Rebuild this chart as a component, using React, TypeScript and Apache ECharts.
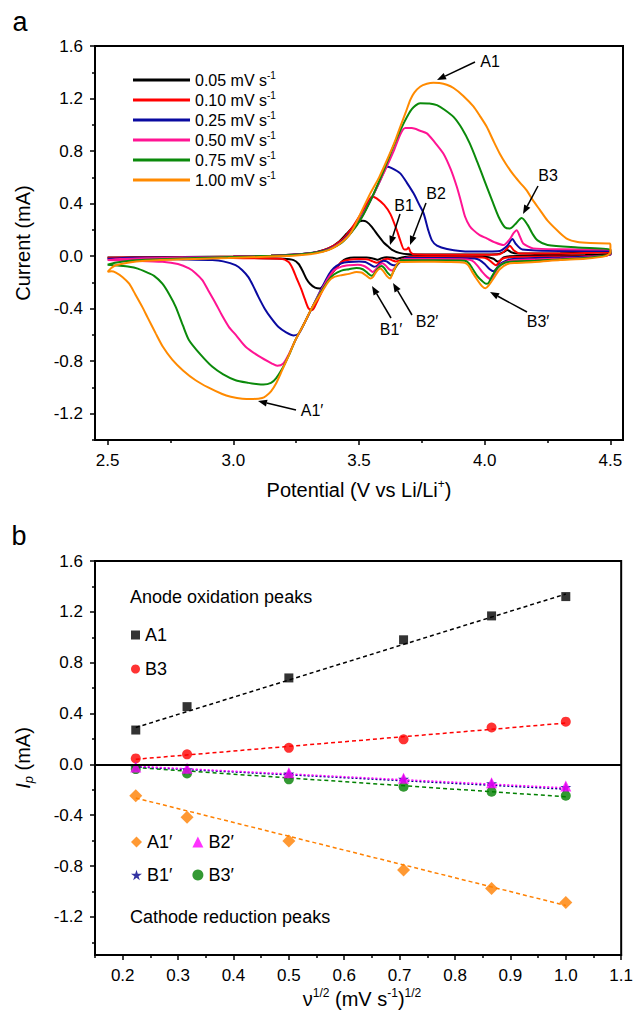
import React, { useEffect, useRef } from 'react';
import * as echarts from 'echarts';

const FONT = '"Liberation Sans", Arial, Helvetica, sans-serif';

// ---------- Panel a: cyclic voltammograms (V, mA) ----------
const rateNames = ['0.05', '0.10', '0.25', '0.50', '0.75', '1.00'];
const rateColors = ['#000000', '#ff0000', '#0a0aa0', '#ff1493', '#0b8a0b', '#ff8a00'];

const fwd005 = [[2.5,-0.01],[2.6,-0.009],[2.8,-0.007],[3.0,-0.003],[3.15,0.003],[3.25,0.012],[3.33,0.03],[3.38,0.06],[3.42,0.11],[3.45,0.17],[3.48,0.23],[3.5,0.262],[3.515,0.27],[3.53,0.262],[3.55,0.225],[3.575,0.16],[3.6,0.1],[3.615,0.075],[3.63,0.05],[3.66,0.025],[3.7,0.015],[3.9,0.012],[4.05,0.015],[4.075,0.03],[4.09,0.047],[4.105,0.03],[4.13,0.02],[4.3,0.022],[4.5,0.03]];
const rev005 = [[4.5,0.015],[4.4,0.008],[4.2,0.004],[4.1,0.0],[4.075,-0.01],[4.06,-0.035],[4.05,-0.04],[4.035,-0.02],[4.0,-0.005],[3.8,-0.003],[3.7,-0.003],[3.67,-0.01],[3.652,-0.02],[3.635,-0.012],[3.61,-0.008],[3.59,-0.015],[3.575,-0.028],[3.56,-0.02],[3.53,-0.01],[3.48,-0.01],[3.45,-0.02],[3.43,-0.045],[3.41,-0.09],[3.38,-0.16],[3.36,-0.22],[3.345,-0.247],[3.325,-0.24],[3.305,-0.21],[3.29,-0.17],[3.275,-0.11],[3.26,-0.06],[3.24,-0.03],[3.2,-0.02],[3.0,-0.012],[2.7,-0.01],[2.5,-0.01]];

const fwd010 = [[2.5,-0.012],[2.6,-0.01],[2.8,-0.008],[3.0,-0.003],[3.15,0.003],[3.25,0.012],[3.33,0.03],[3.38,0.06],[3.43,0.12],[3.47,0.21],[3.51,0.33],[3.535,0.41],[3.552,0.455],[3.57,0.44],[3.6,0.39],[3.625,0.32],[3.65,0.2],[3.664,0.12],[3.68,0.05],[3.69,0.052],[3.697,0.065],[3.705,0.03],[3.72,0.012],[3.9,0.01],[4.06,0.015],[4.085,0.05],[4.1,0.08],[4.115,0.045],[4.14,0.02],[4.3,0.02],[4.5,0.03]];
const rev010 = [[4.5,0.01],[4.4,0.0],[4.2,-0.005],[4.1,-0.008],[4.07,-0.02],[4.055,-0.05],[4.045,-0.07],[4.03,-0.05],[4.01,-0.02],[3.99,-0.01],[3.8,-0.007],[3.7,-0.007],[3.68,-0.02],[3.66,-0.035],[3.645,-0.04],[3.63,-0.03],[3.615,-0.02],[3.6,-0.025],[3.585,-0.04],[3.57,-0.05],[3.555,-0.04],[3.535,-0.025],[3.5,-0.022],[3.46,-0.028],[3.43,-0.045],[3.41,-0.09],[3.38,-0.16],[3.35,-0.28],[3.33,-0.36],[3.315,-0.41],[3.3,-0.4],[3.285,-0.33],[3.27,-0.25],[3.25,-0.16],[3.235,-0.09],[3.22,-0.045],[3.19,-0.02],[3.0,-0.015],[2.7,-0.012],[2.5,-0.012]];

const fwd025 = [[2.5,-0.02],[2.6,-0.012],[2.8,-0.009],[3.0,-0.004],[3.15,0.003],[3.25,0.012],[3.33,0.03],[3.38,0.055],[3.43,0.11],[3.47,0.19],[3.51,0.3],[3.55,0.44],[3.58,0.56],[3.6,0.645],[3.611,0.68],[3.63,0.67],[3.664,0.63],[3.69,0.56],[3.717,0.478],[3.74,0.39],[3.757,0.325],[3.775,0.2],[3.79,0.12],[3.81,0.08],[3.85,0.055],[3.94,0.035],[4.06,0.04],[4.09,0.08],[4.11,0.13],[4.125,0.09],[4.15,0.05],[4.3,0.04],[4.5,0.04]];
const rev025 = [[4.5,0.01],[4.4,-0.005],[4.3,-0.01],[4.2,-0.015],[4.12,-0.02],[4.09,-0.03],[4.06,-0.06],[4.045,-0.1],[4.035,-0.115],[4.02,-0.1],[4.0,-0.06],[3.98,-0.03],[3.96,-0.018],[3.8,-0.014],[3.69,-0.013],[3.67,-0.035],[3.652,-0.06],[3.637,-0.07],[3.625,-0.06],[3.61,-0.04],[3.598,-0.035],[3.585,-0.05],[3.57,-0.075],[3.56,-0.08],[3.545,-0.065],[3.525,-0.045],[3.5,-0.04],[3.46,-0.045],[3.43,-0.055],[3.4,-0.09],[3.38,-0.14],[3.35,-0.25],[3.314,-0.39],[3.28,-0.52],[3.26,-0.59],[3.24,-0.604],[3.21,-0.58],[3.18,-0.54],[3.15,-0.47],[3.125,-0.4],[3.1,-0.31],[3.08,-0.23],[3.06,-0.16],[3.035,-0.105],[3.009,-0.069],[2.96,-0.04],[2.917,-0.03],[2.8,-0.025],[2.6,-0.02],[2.5,-0.02]];

const fwd050 = [[2.5,-0.03],[2.55,-0.022],[2.65,-0.016],[2.8,-0.011],[3.0,-0.005],[3.15,0.002],[3.25,0.01],[3.33,0.028],[3.38,0.052],[3.43,0.105],[3.47,0.185],[3.51,0.295],[3.55,0.44],[3.6,0.64],[3.64,0.81],[3.665,0.93],[3.684,0.975],[3.71,0.975],[3.743,0.955],[3.77,0.935],[3.8,0.87],[3.836,0.78],[3.865,0.66],[3.889,0.528],[3.905,0.42],[3.922,0.3],[3.94,0.23],[3.955,0.198],[3.98,0.16],[4.008,0.135],[4.04,0.105],[4.074,0.084],[4.1,0.13],[4.114,0.173],[4.127,0.198],[4.14,0.15],[4.153,0.097],[4.193,0.059],[4.3,0.052],[4.5,0.05]];
const rev050 = [[4.5,0.015],[4.4,-0.01],[4.3,-0.018],[4.2,-0.025],[4.12,-0.03],[4.09,-0.04],[4.06,-0.07],[4.04,-0.13],[4.025,-0.175],[4.01,-0.16],[3.99,-0.12],[3.97,-0.07],[3.95,-0.035],[3.93,-0.025],[3.8,-0.022],[3.68,-0.022],[3.66,-0.05],[3.642,-0.09],[3.632,-0.11],[3.62,-0.1],[3.605,-0.07],[3.593,-0.055],[3.58,-0.07],[3.565,-0.105],[3.555,-0.12],[3.54,-0.1],[3.52,-0.075],[3.495,-0.065],[3.46,-0.07],[3.43,-0.08],[3.4,-0.11],[3.38,-0.16],[3.35,-0.26],[3.314,-0.39],[3.28,-0.52],[3.247,-0.64],[3.22,-0.75],[3.198,-0.82],[3.175,-0.835],[3.154,-0.818],[3.1,-0.76],[3.049,-0.69],[3.01,-0.6],[2.983,-0.54],[2.955,-0.45],[2.93,-0.36],[2.9,-0.26],[2.877,-0.183],[2.85,-0.13],[2.824,-0.094],[2.78,-0.06],[2.718,-0.043],[2.6,-0.035],[2.5,-0.03]];

const fwd075 = [[2.5,-0.065],[2.53,-0.05],[2.58,-0.037],[2.68,-0.026],[2.85,-0.014],[3.0,-0.006],[3.15,0.002],[3.25,0.01],[3.33,0.027],[3.38,0.05],[3.43,0.1],[3.47,0.18],[3.51,0.29],[3.55,0.44],[3.6,0.66],[3.64,0.85],[3.68,1.02],[3.71,1.12],[3.743,1.165],[3.78,1.163],[3.81,1.15],[3.84,1.115],[3.876,1.06],[3.91,0.97],[3.94,0.86],[3.97,0.72],[4.0,0.57],[4.03,0.42],[4.055,0.3],[4.08,0.22],[4.1,0.21],[4.12,0.24],[4.147,0.29],[4.17,0.24],[4.19,0.17],[4.21,0.12],[4.25,0.085],[4.37,0.066],[4.5,0.05]];
const rev075 = [[4.5,0.02],[4.4,-0.015],[4.3,-0.025],[4.2,-0.035],[4.12,-0.04],[4.08,-0.05],[4.05,-0.09],[4.03,-0.15],[4.015,-0.205],[4.005,-0.21],[3.99,-0.19],[3.97,-0.15],[3.95,-0.09],[3.935,-0.05],[3.92,-0.035],[3.8,-0.032],[3.67,-0.032],[3.65,-0.07],[3.636,-0.12],[3.628,-0.15],[3.615,-0.13],[3.6,-0.09],[3.59,-0.075],[3.575,-0.095],[3.56,-0.135],[3.55,-0.15],[3.535,-0.13],[3.515,-0.1],[3.49,-0.09],[3.46,-0.1],[3.43,-0.11],[3.4,-0.14],[3.38,-0.18],[3.35,-0.27],[3.314,-0.39],[3.28,-0.52],[3.247,-0.64],[3.22,-0.76],[3.194,-0.86],[3.17,-0.93],[3.15,-0.965],[3.12,-0.978],[3.1,-0.976],[3.06,-0.965],[3.009,-0.945],[2.96,-0.9],[2.917,-0.843],[2.87,-0.75],[2.824,-0.64],[2.8,-0.53],[2.771,-0.386],[2.745,-0.29],[2.718,-0.21],[2.685,-0.15],[2.652,-0.12],[2.62,-0.095],[2.586,-0.081],[2.54,-0.072],[2.5,-0.065]];

const fwd100 = [[2.5,-0.12],[2.515,-0.09],[2.533,-0.07],[2.58,-0.05],[2.65,-0.036],[2.8,-0.024],[2.98,-0.015],[3.15,-0.003],[3.25,0.005],[3.33,0.022],[3.378,0.046],[3.42,0.09],[3.457,0.15],[3.48,0.22],[3.51,0.34],[3.545,0.478],[3.58,0.6],[3.611,0.73],[3.64,0.86],[3.664,0.985],[3.685,1.09],[3.704,1.19],[3.72,1.245],[3.743,1.29],[3.77,1.312],[3.796,1.32],[3.82,1.318],[3.849,1.305],[3.876,1.28],[3.915,1.22],[3.955,1.14],[3.98,1.07],[4.008,0.985],[4.034,0.88],[4.06,0.78],[4.085,0.7],[4.114,0.62],[4.14,0.56],[4.167,0.5],[4.19,0.43],[4.22,0.35],[4.25,0.27],[4.3,0.175],[4.33,0.13],[4.365,0.11],[4.42,0.1],[4.497,0.097],[4.5,0.08]];
const rev100 = [[4.5,0.03],[4.48,0.0],[4.4,-0.02],[4.3,-0.03],[4.2,-0.045],[4.12,-0.052],[4.09,-0.06],[4.06,-0.1],[4.035,-0.17],[4.015,-0.225],[4.003,-0.245],[3.99,-0.23],[3.97,-0.18],[3.95,-0.12],[3.935,-0.07],[3.92,-0.05],[3.85,-0.045],[3.75,-0.043],[3.66,-0.045],[3.645,-0.08],[3.632,-0.14],[3.624,-0.17],[3.61,-0.15],[3.595,-0.11],[3.585,-0.095],[3.57,-0.115],[3.555,-0.16],[3.545,-0.17],[3.53,-0.15],[3.51,-0.125],[3.49,-0.12],[3.46,-0.135],[3.43,-0.145],[3.4,-0.16],[3.38,-0.19],[3.35,-0.28],[3.314,-0.39],[3.28,-0.52],[3.247,-0.64],[3.22,-0.76],[3.194,-0.87],[3.17,-0.97],[3.15,-1.03],[3.13,-1.065],[3.115,-1.08],[3.08,-1.087],[3.036,-1.085],[2.99,-1.07],[2.956,-1.05],[2.9,-1.0],[2.85,-0.945],[2.8,-0.87],[2.758,-0.79],[2.72,-0.69],[2.692,-0.59],[2.66,-0.47],[2.639,-0.39],[2.61,-0.29],[2.586,-0.21],[2.56,-0.16],[2.533,-0.125],[2.515,-0.115],[2.5,-0.12]];

const cvCurves = [
  [...fwd005, ...rev005],
  [...fwd010, ...rev010],
  [...fwd025, ...rev025],
  [...fwd050, ...rev050],
  [...fwd075, ...rev075],
  [...fwd100, ...rev100],
];

// ---------- Panel b: peak currents vs sqrt(scan rate) ----------
const sqrtRate = [0.2236, 0.3162, 0.5, 0.7071, 0.866, 1.0];
const peakA1 = [0.27, 0.454, 0.68, 0.98, 1.168, 1.32];
const peakB3 = [0.047, 0.079, 0.13, 0.197, 0.29, 0.336];
const peakA1p = [-0.247, -0.417, -0.604, -0.832, -0.976, -1.087];
const peakB1p = [-0.025, -0.04, -0.075, -0.115, -0.15, -0.18];
const peakB2p = [-0.02, -0.03, -0.066, -0.11, -0.145, -0.171];
const peakB3p = [-0.037, -0.071, -0.118, -0.176, -0.215, -0.247];

const fitA1 = [[0.2236, 0.29], [1.0, 1.34]];
const fitB3 = [[0.2236, 0.04], [1.0, 0.325]];
const fitA1p = [[0.2236, -0.265], [1.0, -1.11]];
const fitB1p = [[0.2236, -0.02], [1.0, -0.195]];
const fitB2p = [[0.2236, -0.015], [1.0, -0.185]];
const fitB3p = [[0.2236, -0.025], [1.0, -0.255]];

// ---------- Tick values ----------
const cvXMajor = [2.5, 3.0, 3.5, 4.0, 4.5];
const cvXMinor = [2.75, 3.25, 3.75, 4.25];
const yMajor = [-1.2, -0.8, -0.4, 0, 0.4, 0.8, 1.2, 1.6];
const yMinor = [-1.4, -1.0, -0.6, -0.2, 0.2, 0.6, 1.0, 1.4];
const ipXMajor = [0.2, 0.3, 0.4, 0.5, 0.6, 0.7, 0.8, 0.9, 1.0, 1.1];
const ipXMinor = [0.15, 0.25, 0.35, 0.45, 0.55, 0.65, 0.75, 0.85, 0.95, 1.05];

const STAR = 'path://M50,0 L61,35 L98,35 L68,57 L79,91 L50,70 L21,91 L32,57 L2,35 L39,35 Z';

function axisPair(kind: 'x' | 'y', gridIndex: number, min: number, max: number, major: number[], minor: number[], margin: number) {
  const position = kind === 'x' ? 'bottom' : 'left';
  const main = {
    type: 'value', gridIndex, min, max, position,
    axisLine: { show: true, onZero: false, lineStyle: { color: '#000', width: 2 } },
    axisTick: { show: true, customValues: major, length: 5, inside: false, lineStyle: { color: '#000', width: 1.5 } },
    axisLabel: {
      show: true, customValues: major, margin, color: '#000', fontSize: 17, fontFamily: FONT,
      formatter: (v: number) => Number(v).toFixed(1),
    },
    splitLine: { show: false },
  };
  const sub = {
    type: 'value', gridIndex, min, max, position,
    axisLine: { show: false, onZero: false },
    axisTick: { show: true, customValues: minor, length: 3, inside: false, lineStyle: { color: '#000', width: 1.5 } },
    axisLabel: { show: false },
    splitLine: { show: false },
  };
  return [main, sub];
}

function arrow(x1: number, y1: number, x2: number, y2: number) {
  const a = Math.atan2(y2 - y1, x2 - x1);
  const c = Math.cos(a), s = Math.sin(a);
  const L = 9, W = 3.5;
  const bx = x2 - L * c, by = y2 - L * s;
  return [
    { type: 'line', z: 100, shape: { x1, y1, x2: bx, y2: by }, style: { stroke: '#000', lineWidth: 1.5 } },
    { type: 'polygon', z: 100, shape: { points: [[x2, y2], [bx - s * W, by + c * W], [bx + s * W, by - c * W]] }, style: { fill: '#000' } },
  ];
}

function label(text: string, x: number, y: number, size = 16, align = 'center') {
  return { type: 'text', z: 100, x, y, style: { text, fill: '#000', fontSize: size, fontFamily: FONT, align, verticalAlign: 'middle' } };
}

const supRich = {
  n: { fontSize: 20, fontFamily: FONT, color: '#000', fill: '#000', lineHeight: 24 },
  s: { fontSize: 12, fontFamily: FONT, color: '#000', fill: '#000', lineHeight: 13, verticalAlign: 'top' },
  i: { fontSize: 20, fontFamily: FONT, fontStyle: 'italic', fill: '#000', lineHeight: 24 },
  p: { fontSize: 13, fontFamily: FONT, fontStyle: 'italic', fill: '#000', lineHeight: 14, verticalAlign: 'bottom' },
};

function buildOption() {
  const [ax0, ax1] = axisPair('x', 0, 2.45, 4.55, cvXMajor, cvXMinor, 12);
  const [ay0, ay1] = axisPair('y', 0, -1.4, 1.6, yMajor, yMinor, 12);
  const [bx0, bx1] = axisPair('x', 1, 0.15, 1.1, ipXMajor, ipXMinor, 12);
  const [by0, by1] = axisPair('y', 1, -1.5, 1.6, yMajor, yMinor, 12);

  const cvSeries = cvCurves.map((d, i) => ({
    type: 'line', name: rateNames[i], xAxisIndex: 0, yAxisIndex: 0,
    data: d, showSymbol: false, symbol: 'none', smooth: 0.25,
    color: rateColors[i],
    lineStyle: { color: rateColors[i], width: 2 },
    itemStyle: { color: rateColors[i] },
  }));

  const fit = (name: string, d: number[][], color: string, dash: number[], extra: any = {}) => ({
    type: 'line', name, xAxisIndex: 2, yAxisIndex: 2, data: d, showSymbol: false, symbol: 'none',
    lineStyle: { color, width: 1.5, type: dash }, z: 2, ...extra,
  });
  const pts = (name: string, vals: number[], symbol: string, size: number, color: string) => ({
    type: 'scatter', name, xAxisIndex: 2, yAxisIndex: 2, symbol, symbolSize: size,
    data: sqrtRate.map((x, i) => [x, vals[i]]), itemStyle: { color }, z: 3,
  });

  const bSeries = [
    fit('fitA1', fitA1, '#000', [4, 3], {
      markLine: {
        silent: true, symbol: ['none', 'none'], label: { show: false },
        lineStyle: { color: '#000', width: 2, type: 'solid' }, data: [{ yAxis: 0 }],
      },
    }),
    fit('fitB3', fitB3, '#ff0000', [4, 3]),
    fit('fitA1p', fitA1p, '#ff8000', [4, 3]),
    fit('fitB3p', fitB3p, '#008000', [4, 3]),
    fit('fitB1p', fitB1p, '#00008b', [2, 2]),
    fit('fitB2p', fitB2p, '#ff00ff', [2, 2]),
    pts('A1', peakA1, 'rect', 9, '#000'),
    pts('B3', peakB3, 'circle', 10, '#ff0000'),
    pts('A1′', peakA1p, 'diamond', 13, '#ff8000'),
    pts('B1′', peakB1p, STAR, 11, '#00008b'),
    pts('B3′', peakB3p, 'circle', 10, '#008000'),
    pts('B2′', peakB2p, 'triangle', 11, '#ff00ff'),
  ];

  const legTxt = { fontSize: 18, fontFamily: FONT, color: '#000', lineHeight: 20 };

  return {
    animation: false,
    backgroundColor: '#fff',
    textStyle: { fontFamily: FONT },
    grid: [
      { left: 95, top: 46, width: 528, height: 394, show: true, borderColor: '#000', borderWidth: 2, backgroundColor: 'transparent' },
      { left: 95, top: 561, width: 528, height: 394, show: true, borderColor: '#000', borderWidth: 2, backgroundColor: 'transparent' },
    ],
    xAxis: [ax0, ax1, bx0, bx1],
    yAxis: [ay0, ay1, by0, by1],
    legend: [
      {
        data: rateNames, orient: 'vertical', left: 133, top: 70, padding: 0, itemGap: 2,
        itemWidth: 57, itemHeight: 3, icon: 'rect',
        formatter: (n: string) => `{n|${n} mV s}{s|-1}`,
        textStyle: {
          rich: {
            n: { fontSize: 16, fontFamily: FONT, color: '#000', lineHeight: 20 },
            s: { fontSize: 10, fontFamily: FONT, color: '#000', lineHeight: 12, verticalAlign: 'top' },
          },
        },
      },
      {
        data: ['A1', 'B3'], orient: 'vertical', left: 131, top: 625, padding: 0, itemGap: 14,
        itemWidth: 9, itemHeight: 9, textStyle: legTxt,
      },
      {
        data: ['A1′', 'B2′'], orient: 'horizontal', left: 131, top: 832, padding: 0, itemGap: 20,
        itemWidth: 11, itemHeight: 11, textStyle: legTxt,
      },
      {
        data: ['B1′', 'B3′'], orient: 'horizontal', left: 131, top: 865, padding: 0, itemGap: 20,
        itemWidth: 11, itemHeight: 11, textStyle: legTxt,
      },
    ],
    series: [...cvSeries, ...bSeries],
    graphic: [
      label('a', 20, 22, 27),
      label('b', 19, 536, 27),
      { type: 'text', z: 100, x: 23, y: 243, rotation: Math.PI / 2, style: { text: 'Current (mA)', fill: '#000', fontSize: 20, fontFamily: FONT, align: 'center', verticalAlign: 'middle' } },
      { type: 'text', z: 100, x: 359, y: 490, style: { text: '{n|Potential (V vs Li/Li}{s|+}{n|)}', rich: supRich, align: 'center', verticalAlign: 'middle' } },
      { type: 'text', z: 100, x: 23, y: 758, rotation: Math.PI / 2, style: { text: '{i|I}{p|p}{n| (mA)}', rich: supRich, align: 'center', verticalAlign: 'middle' } },
      { type: 'text', z: 100, x: 362, y: 999, style: { text: '{n|ν}{s|1/2}{n| (mV s}{s|-1}{n|)}{s|1/2}', rich: supRich, align: 'center', verticalAlign: 'middle' } },
      label('A1', 490, 61),
      ...arrow(475, 62, 437, 80),
      label('B1', 404, 205),
      ...arrow(400, 214, 390, 245),
      label('B2', 436, 193),
      ...arrow(426, 203, 410, 245),
      label('B3', 548, 175),
      ...arrow(538, 186, 523, 214),
      label('A1′', 312, 410),
      ...arrow(296, 410, 258, 401),
      label('B1′', 391, 329),
      ...arrow(391, 318, 372, 286),
      label('B2′', 427, 321),
      ...arrow(412, 315, 393, 283),
      label('B3′', 538, 321),
      ...arrow(527, 312, 490, 292),
      label('Anode oxidation peaks', 130, 597, 18, 'left'),
      label('Cathode reduction peaks', 130, 917, 18, 'left'),
    ],
  };
}

export default function App() {
  const ref = useRef<HTMLDivElement>(null);
  useEffect(() => {
    if (!ref.current) return;
    const chart = echarts.init(ref.current, null, { renderer: 'svg' });
    chart.setOption(buildOption() as any);
    return () => chart.dispose();
  }, []);
  return (
    <div
      ref={ref}
      style={{ position: 'absolute', left: 0, top: 0, width: 636, height: 1018, background: '#fff' }}
    />
  );
}
